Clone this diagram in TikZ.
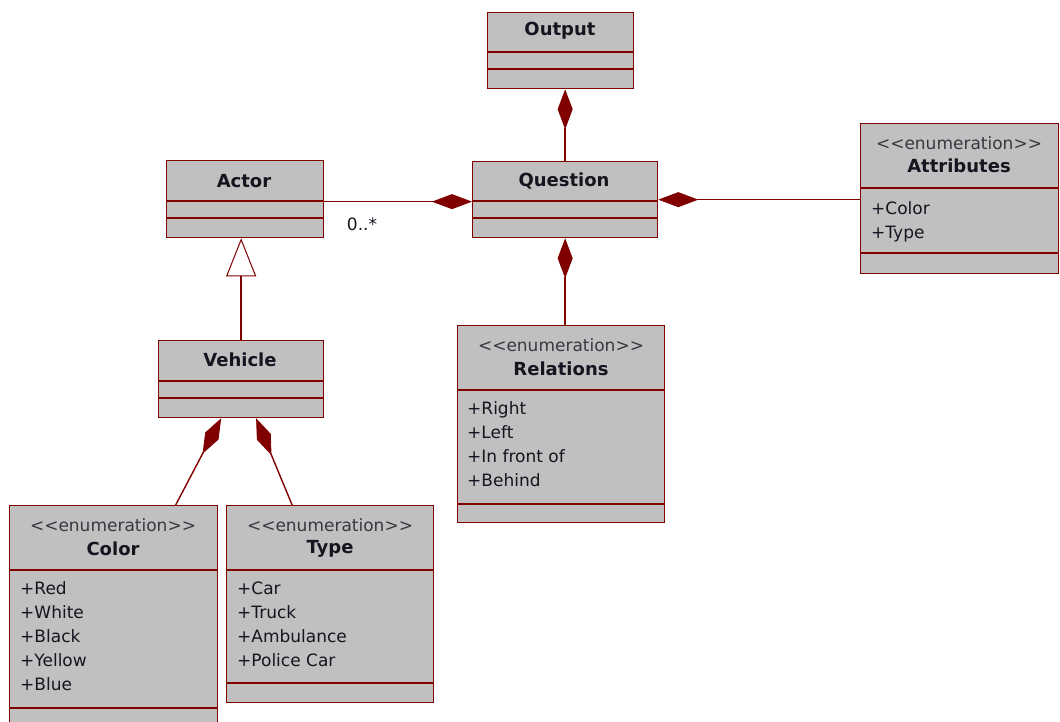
\documentclass[tikz,border=0pt]{standalone}
\usepackage{fontspec}
\setmainfont{DejaVu Sans}
\usetikzlibrary{arrows.meta}
\definecolor{umlred}{HTML}{800000}
\definecolor{umlfill}{HTML}{C0C0C0}
\definecolor{umltext}{HTML}{151520}

% class box: name, x1, y1, x2, y2, first divider y, second divider y
\newcommand\classbox[7]{%
  \node[classbox, minimum width={#4-#2}, minimum height={#5-#3}] (#1) at (#2,#3) {};
  \draw[divider] (#2,#6) -- (#4,#6);
  \draw[divider] (#2,#7) -- (#4,#7);
}
% stereotype text, kept as two separate angle brackets on each side
\newcommand\enumstereo{<\kern0pt<enumeration>\kern0pt>}

\begin{document}
\begin{tikzpicture}[x=1pt,y=-1pt,
  classbox/.style={draw=umlred, fill=umlfill, line width=1.3pt, inner sep=0pt, anchor=north west},
  divider/.style={draw=umlred, line width=1.3pt},
  title/.style={font=\fontsize{18}{20}\selectfont\bfseries, text=umltext, inner sep=0pt},
  stereo/.style={font=\fontsize{17}{20}\selectfont, text=umltext!85, inner sep=0pt},
  item/.style={font=\fontsize{17}{20}\selectfont, text=umltext, inner sep=0pt, anchor=west,
    text height=12pt, text depth=3.5pt},
  link/.style={draw=umlred, line width=1.4pt},
  comp/.style={link, {Diamond[length=40pt, width=15pt, fill=umlred, line width=0.8pt]}-},
  gen/.style={link, -{Triangle[open, length=38pt, width=30pt, fill=white, line width=1pt]}},
]
\clip (0,0) rectangle (1060,722);
\fill[white] (0,0) rectangle (1060,722);

% plain classes
\classbox{output}{487}{12}{633}{88}{52}{69}
\node[title] (output-title) at (560,31) {Output};

\classbox{question}{472}{161}{657}{237}{201}{218}
\node[title] (question-title) at (564,181) {Question};

\classbox{actor}{166}{160}{323}{237}{201}{218}
\node[title] (actor-title) at (244,181) {Actor};

\classbox{vehicle}{158}{340}{323}{417}{381}{398}
\node[title] (vehicle-title) at (240,360) {Vehicle};

% enumerations
\classbox{attributes}{860}{123}{1058}{273}{188}{253}
\node[stereo] (attributes-stereo) at (959,143) {\enumstereo};
\node[title] (attributes-title) at (959,166) {Attributes};
\foreach \t [count=\i] in {+Color,+Type}
  \node[item] (attributes-\i) at (871,{186+24*\i}) {\t};

\classbox{relations}{457}{325}{664}{522}{390}{504}
\node[stereo] (relations-stereo) at (561,345) {\enumstereo};
\node[title] (relations-title) at (561,369) {Relations};
\foreach \t [count=\i] in {+Right,+Left,+In front of,+Behind}
  \node[item] (relations-\i) at (467,{386+24*\i}) {\t};

\classbox{color}{9}{505}{217}{740}{570}{708}
\node[stereo] (color-stereo) at (113,525) {\enumstereo};
\node[title] (color-title) at (113,549) {Color};
\foreach \t [count=\i] in {+Red,+White,+Black,+Yellow,+Blue}
  \node[item] (color-\i) at (20,{566+24*\i}) {\t};

\classbox{type}{226}{505}{433}{702}{570}{683}
\node[stereo] (type-stereo) at (330,525) {\enumstereo};
\node[title] (type-title) at (330,549) {Type};
\foreach \t [count=\i] in {+Car,+Truck,+Ambulance,+Police Car}
  \node[item] (type-\i) at (237,{566+24*\i}) {\t};

% composition links
\draw[comp] (output.south -| question.north) -- (question.north);
\draw[comp] ([yshift=-2pt]question.west) -- ([yshift=-2pt]question.west -| actor.east);
\node[stereo, text=umltext] (actor-mult) at (362,224) {0..*};
\draw[comp] (question.east) -- (question.east -| attributes.west);
\draw[comp] (question.south) -- (question.south |- relations.north);
\draw[comp] ([xshift=-20pt]vehicle.south) -- ([xshift=62pt]color.north);
\draw[comp] ([xshift=15pt]vehicle.south) -- ([xshift=-38pt]type.north);

% generalization
\draw[gen] (vehicle.north) -- (vehicle.north |- actor.south);
\end{tikzpicture}
\end{document}
